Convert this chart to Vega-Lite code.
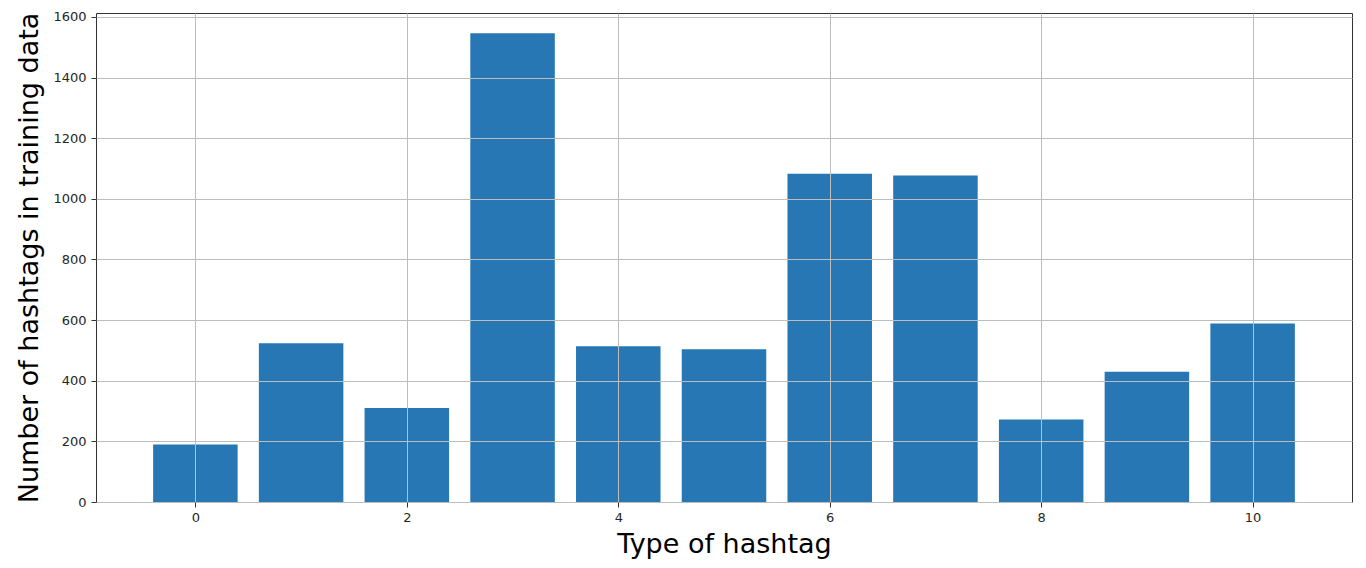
{
  "$schema": "https://vega.github.io/schema/vega-lite/v6.json",
  "autosize": "none",
  "width": 1256,
  "height": 489,
  "padding": {"left": 96, "top": 13, "right": 14, "bottom": 66},
  "background": "white",
  "config": {
    "font": "DejaVu Sans",
    "view": {"stroke": "#333333", "strokeWidth": 1}
  },
  "data": {
    "values": [
      {"type": 0, "count": 190},
      {"type": 1, "count": 524},
      {"type": 2, "count": 310},
      {"type": 3, "count": 1546},
      {"type": 4, "count": 514},
      {"type": 5, "count": 504},
      {"type": 6, "count": 1083},
      {"type": 7, "count": 1077},
      {"type": 8, "count": 272},
      {"type": 9, "count": 430},
      {"type": 10, "count": 589}
    ]
  },
  "mark": {"type": "bar", "color": "#2677b3", "size": 84.5},
  "encoding": {
    "x": {
      "field": "type",
      "type": "quantitative",
      "scale": {"domain": [-0.94, 10.94], "nice": false, "zero": false, "padding": 0},
      "axis": {
        "values": [0, 2, 4, 6, 8, 10],
        "format": "d",
        "title": "Type of hashtag",
        "titleFontSize": 27,
        "titleFontWeight": "normal",
        "titleColor": "#000000",
        "titlePadding": 7,
        "labelFontSize": 13,
        "labelColor": "#262626",
        "labelPadding": 4,
        "tickColor": "#333333",
        "tickSize": 5,
        "domain": false,
        "grid": true,
        "gridColor": "#bdbdbd",
        "gridWidth": 1,
        "zindex": 1
      }
    },
    "y": {
      "field": "count",
      "type": "quantitative",
      "scale": {"domain": [0, 1613], "nice": false},
      "axis": {
        "values": [0, 200, 400, 600, 800, 1000, 1200, 1400, 1600],
        "format": "d",
        "title": "Number of hashtags in training data",
        "titleFontSize": 27,
        "titleFontWeight": "normal",
        "titleColor": "#000000",
        "titlePadding": 9,
        "labelFontSize": 13,
        "labelColor": "#262626",
        "labelPadding": 5,
        "tickColor": "#333333",
        "tickSize": 5,
        "domain": false,
        "grid": true,
        "gridColor": "#bdbdbd",
        "gridWidth": 1,
        "zindex": 1
      }
    }
  }
}
